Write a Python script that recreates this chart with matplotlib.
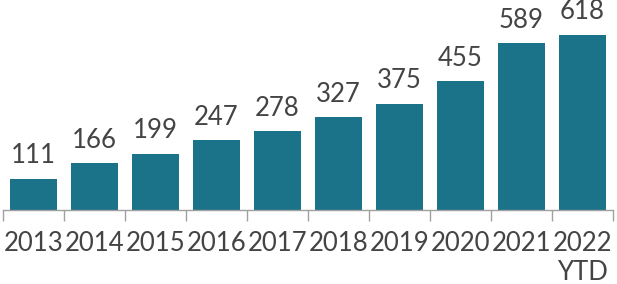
import matplotlib
matplotlib.use("Agg")
import matplotlib.pyplot as plt

categories = ["2013", "2014", "2015", "2016", "2017", "2018", "2019", "2020", "2021", "2022\nYTD"]
values = [111, 166, 199, 247, 278, 327, 375, 455, 589, 618]

bar_color = "#1b7389"
text_color = "#444444"

plt.rcParams['font.family'] = ['Lato', 'DejaVu Sans']

fig = plt.figure(figsize=(6.17, 2.84), dpi=100)
ax = fig.add_axes([3/617, (284-210)/284, 610/617, 210/284])

x = list(range(len(categories)))
bars = ax.bar(x, values, width=0.77, color=bar_color)
ax.set_xlim(-0.5, len(categories) - 0.5)
ax.set_ylim(0, 741)

for xi, v in zip(x, values):
    ax.annotate(str(v), (xi, v), xytext=(0, 7.5), textcoords="offset points",
                ha="center", va="bottom", fontsize=18.5, color=text_color)

for s in ["top", "right", "left"]:
    ax.spines[s].set_visible(False)
ax.spines["bottom"].set_color("#a0a0a0")
ax.spines["bottom"].set_linewidth(1)
ax.set_yticks([])

ax.set_xticks(x)
ax.set_xticklabels(categories, fontsize=18.5, color=text_color, linespacing=1.2)
ax.tick_params(axis="x", which="major", length=0, pad=15)
ax.set_xticks([i - 0.5 for i in range(len(categories) + 1)], minor=True)
ax.tick_params(axis="x", which="minor", length=8, color="#a0a0a0", width=1)

fig.savefig("out.png", dpi=100)
